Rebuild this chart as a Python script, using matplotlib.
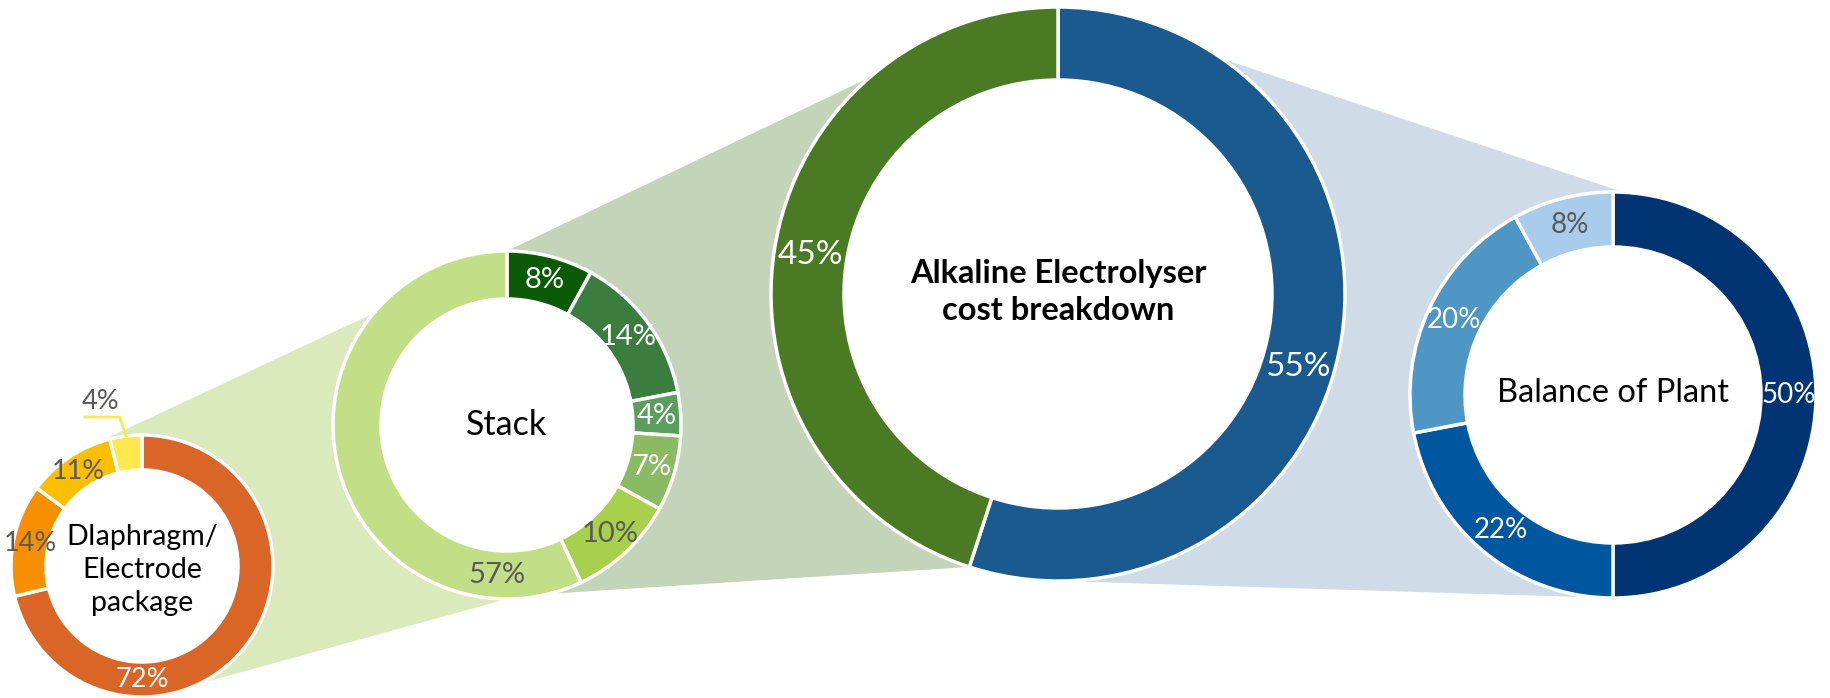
import numpy as np
import matplotlib.pyplot as plt
from matplotlib.patches import Polygon, Circle

plt.rcParams['font.family'] = ['Lato', 'DejaVu Sans']

# data
main_vals = [55, 45]
main_colors = ['#1b5a8e', '#4a7a23']

stack_vals = [8, 14, 4, 7, 10, 57]
stack_colors = ['#0b5a06', '#3b7d3e', '#5a9e5d', '#8aba62', '#a8d04d', '#c2df88']
stack_text = ['white', 'white', 'white', 'white', '#595959', '#595959']

dia_vals = [72, 14, 11, 4]
dia_colors = ['#d96627', '#f78f00', '#fbbf00', '#fde84e']
dia_text = ['white', '#595959', '#595959', '#595959']

bop_vals = [50, 22, 20, 8]
bop_colors = ['#003473', '#0057a0', '#4e96c4', '#a9ccec']
bop_text = ['white', 'white', 'white', '#595959']

W, H = 1830, 698
fig = plt.figure(figsize=(W / 100, H / 100), dpi=100)
ax = fig.add_axes([0, 0, 1, 1])

# layout: centre (pixel coords, y up), outer radius, ring width
D = dict(c=(142, 132), r=131, w=35)
S = dict(c=(507, 273), r=174, w=48)
M = dict(c=(1058, 404), r=287, w=73)
B = dict(c=(1613, 303), r=203, w=55)


def pt(d, ang, r=None):
    r = d['r'] if r is None else r
    a = np.deg2rad(ang)
    return (d['c'][0] + r * np.cos(a), d['c'][1] + r * np.sin(a))


def funnel(d1, a1, a2, d2, b1, b2, color):
    verts = [pt(d1, a1), pt(d2, b1), d2['c'], pt(d2, b2), pt(d1, a2), d1['c']]
    ax.add_patch(Polygon(verts, closed=True, facecolor=color, edgecolor='none', zorder=0))


funnel(D, 111, -64, S, 140, -90, '#dbeabd')
funnel(S, 90, -76, M, 131, -108, '#c4d4b9')
funnel(M, 55, -90, B, 87, -90, '#cfdce7')


def donut(d, vals, colors):
    wedges, _ = ax.pie(vals, colors=colors, radius=d['r'], center=d['c'], startangle=90,
                       counterclock=False, frame=True,
                       wedgeprops=dict(width=d['w'], edgecolor='white', linewidth=2.5))
    ax.add_patch(Circle(d['c'], d['r'] - d['w'], facecolor='white', edgecolor='none', zorder=1.5))
    return wedges


def labels(d, wedges, vals, tcolors, size, override={}):
    for i, (w, v) in enumerate(zip(wedges, vals)):
        ang = override.get(i, (w.theta1 + w.theta2) / 2)
        x, y = pt(d, ang, d['r'] - d['w'] / 2)
        ax.text(x, y, f'{v}%', ha='center', va='center', color=tcolors[i],
                fontsize=size, zorder=3)


mw = donut(M, main_vals, main_colors)
labels(M, mw, main_vals, ['white', 'white'], 24, {0: -17})
ax.text(M['c'][0], M['c'][1] + 2, 'Alkaline Electrolyser\ncost breakdown', ha='center',
        va='center', fontsize=23.5, fontweight='bold', linespacing=1.3, zorder=3)

sw = donut(S, stack_vals, stack_colors)
labels(S, sw, stack_vals, stack_text, 21, {5: -94})
ax.text(S['c'][0], S['c'][1], 'Stack', ha='center', va='center', fontsize=24.5, zorder=3)

dw = donut(D, dia_vals, dia_colors)
labels(D, dw[:3], dia_vals[:3], dia_text, 19.5, {0: -90})
ax.text(D['c'][0], D['c'][1] - 4, 'DIaphragm/\nElectrode\npackage', ha='center', va='center',
        fontsize=20.5, linespacing=1.35, zorder=3)
# leader line for the small 4% slice
w4 = dw[3]
x0, y0 = pt(D, (w4.theta1 + w4.theta2) / 2)
ax.plot([x0, x0 - 6, x0 - 41], [y0, y0 + 19, y0 + 19], color='#fde84e', lw=2, zorder=3)
ax.text(x0 - 25, y0 + 22, f'{dia_vals[3]}%', ha='center', va='bottom', color='#595959',
        fontsize=19.5, zorder=3)

bw = donut(B, bop_vals, bop_colors)
labels(B, bw, bop_vals, bop_text, 20)
ax.text(B['c'][0], B['c'][1] + 2, 'Balance of Plant', ha='center', va='center', fontsize=23.5,
        zorder=3)

ax.set_xlim(0, W)
ax.set_ylim(0, H)
ax.set_aspect('equal')
ax.axis('off')

fig.savefig('out.png', dpi=100, facecolor='white')
